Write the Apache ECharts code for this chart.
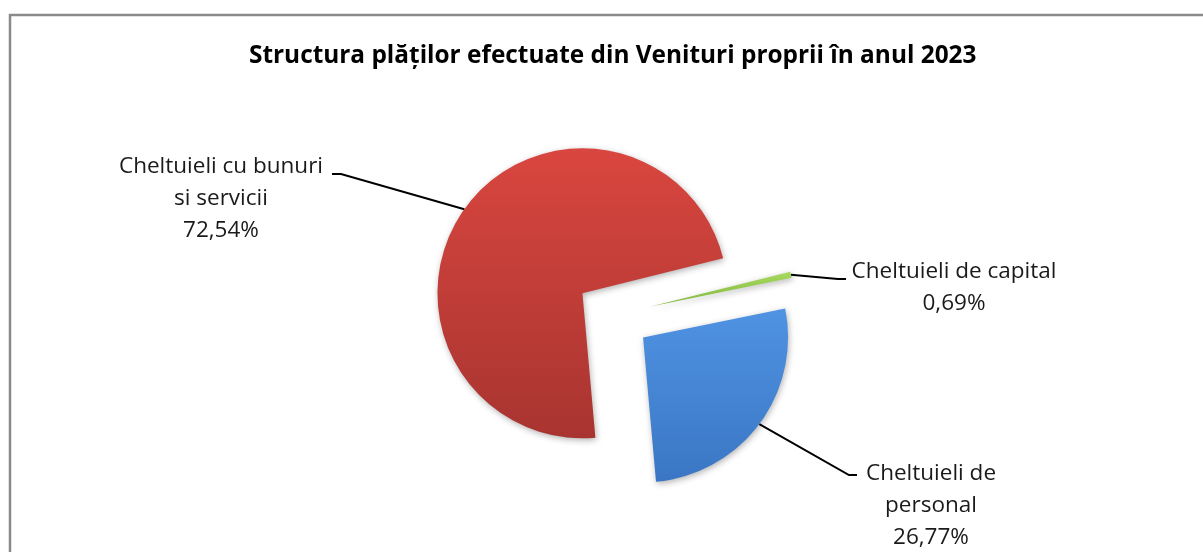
<!DOCTYPE html>
<html>
<head>
<meta charset="utf-8">
<script src="https://cdn.jsdelivr.net/npm/echarts@6/dist/echarts.min.js"></script>
<style>
html,body{margin:0;padding:0;background:#fff;}
#chart{width:1203px;height:552px;}
</style>
</head>
<body>
<div id="chart"></div>
<script>
// ---- data ----
const categories = ['Cheltuieli de personal', 'Cheltuieli cu bunuri si servicii', 'Cheltuieli de capital'];
const labelTexts = ['Cheltuieli de\npersonal', 'Cheltuieli cu bunuri\nsi servicii', 'Cheltuieli de capital'];
const shares = [26.77, 72.54, 0.69];
const titleText = 'Structura plăților efectuate din Venituri proprii în anul 2023';

// ---- layout / style ----
const CX = 613, CY = 315, R = 145, OFFSET = 37.5, START = 11.5;
const FONT = '"Open Sans", "Noto Sans", sans-serif';
const gradients = [
  ['#4f93e2', '#3a76c4'],
  ['#d9463f', '#a83430'],
  ['#a8d860', '#7fb83a']
];
// label box centres and leader elbow/end points (layout only)
const labelBoxes = [
  {x: 931, y: 506, elbow: [849, 475], end: [857, 475]},
  {x: 221, y: 199, elbow: [341, 174], end: [332, 174]},
  {x: 954, y: 288, elbow: [838, 279], end: [846, 279]}
];

function fmt(v) { return v.toFixed(2).replace('.', ',') + '%'; }

const chart = echarts.init(document.getElementById('chart'), null, {renderer: 'canvas'});

const total = shares.reduce((a, b) => a + b, 0);
const graphics = [
  {type: 'rect', shape: {x: 10, y: 15, width: 1220, height: 600}, style: {fill: 'none', stroke: '#8a8a8a', lineWidth: 2.5}, silent: true, z: 0}
];
let cum = 0;
shares.forEach((v, i) => {
  const mid = (START - 360 * (cum + v / 2) / total) * Math.PI / 180;
  cum += v;
  const ax = CX + (R + OFFSET) * Math.cos(mid);
  const ay = CY - (R + OFFSET) * Math.sin(mid);
  const b = labelBoxes[i];
  graphics.push({
    type: 'polyline', shape: {points: [[ax, ay], b.elbow, b.end]},
    style: {stroke: '#000', lineWidth: 2, fill: 'none'}, silent: true, z: 10
  });
  graphics.push({
    type: 'text', x: b.x, y: b.y,
    style: {
      text: labelTexts[i] + '\n' + fmt(v), font: '22.5px ' + FONT, fill: '#1a1a1a',
      align: 'center', verticalAlign: 'middle', lineHeight: 32
    }, silent: true, z: 10
  });
});

chart.setOption({
  animation: false,
  title: {
    text: titleText, left: 244, top: 39,
    textStyle: {fontFamily: FONT, fontWeight: 'bold', fontSize: 24.4, color: '#000'}
  },
  graphic: graphics,
  series: [{
    type: 'pie',
    center: [CX, CY],
    radius: R,
    startAngle: START,
    clockwise: true,
    selectedMode: 'multiple',
    selectedOffset: OFFSET,
    avoidLabelOverlap: false,
    label: {show: false},
    labelLine: {show: false},
    emphasis: {disabled: true},
    itemStyle: {
      shadowBlur: 6, shadowColor: 'rgba(0,0,0,0.3)', shadowOffsetX: 1, shadowOffsetY: 2
    },
    data: shares.map((v, i) => ({
      name: categories[i], value: v, selected: true,
      itemStyle: {
        color: new echarts.graphic.LinearGradient(0, 0, 0, 1, [
          {offset: 0, color: gradients[i][0]},
          {offset: 1, color: gradients[i][1]}
        ])
      }
    }))
  }]
});
</script>
</body>
</html>
